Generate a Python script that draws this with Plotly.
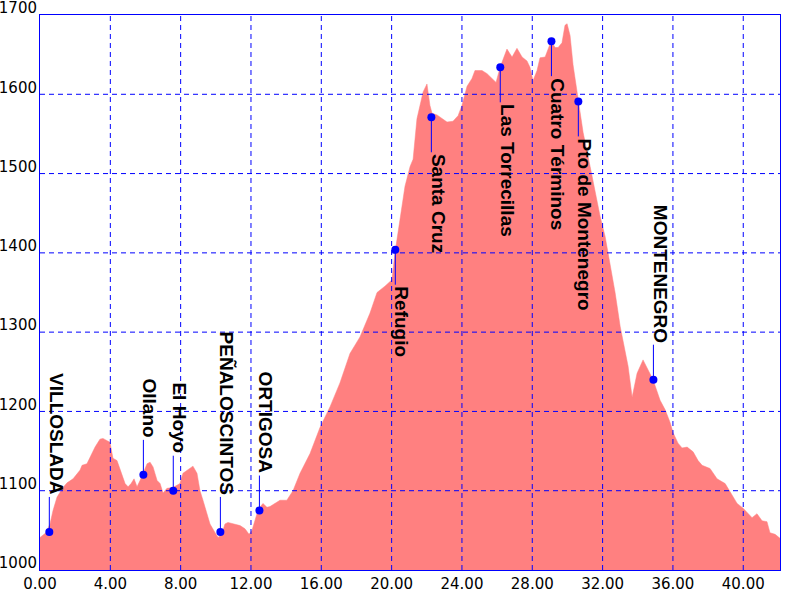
import plotly.graph_objects as go

# elevation profile (km, m)
km = [0.00, 0.34, 0.57, 0.74, 0.97, 1.14, 1.31, 1.54, 1.88, 2.28, 2.39, 2.67, 2.84,
      3.13, 3.41, 3.58, 3.98, 4.15, 4.38, 4.55, 4.84, 5.01, 5.18, 5.35, 5.52, 5.69,
      5.86, 6.09, 6.26, 6.43, 6.66, 6.83, 7.00, 7.22, 7.56, 7.96, 8.13, 8.53, 8.70,
      8.93, 9.10, 9.27, 9.50, 9.67, 9.96, 10.13, 10.35, 10.52, 10.69, 10.98, 11.38,
      11.66, 11.89, 12.06, 12.34, 12.51, 12.68, 12.91, 13.08, 13.65, 14.04, 14.39,
      14.79, 15.36, 15.93, 16.50, 17.06, 17.63, 18.20, 18.77, 19.17, 19.62, 20.02,
      20.19, 20.48, 20.76, 21.05, 21.22, 21.44, 21.62, 21.79, 22.01, 22.18, 22.30,
      22.58, 23.15, 23.49, 23.78, 24.00, 24.29, 24.57, 24.74, 25.14, 25.43, 25.71,
      25.94, 26.17, 26.45, 26.56, 26.85, 27.13, 27.42, 27.70, 27.87, 28.04, 28.27,
      28.44, 28.73, 29.07, 29.30, 29.47, 29.69, 29.86, 29.98, 30.15, 30.32, 30.60,
      30.89, 31.29, 31.68, 31.86, 32.14, 32.42, 32.71, 33.00, 33.28, 33.45, 33.68,
      33.96, 34.30, 34.87, 35.27, 35.56, 35.84, 36.01, 36.29, 36.52, 36.81, 37.15,
      37.43, 37.66, 38.11, 38.51, 38.97, 39.25, 39.65, 39.99, 40.27, 40.50, 40.78,
      41.07, 41.35, 41.52, 41.81, 42.09]
elev = [1041, 1047, 1058, 1075, 1092, 1098, 1104, 1110, 1115, 1126, 1132, 1134, 1142,
        1155, 1165, 1166, 1161, 1141, 1138, 1128, 1109, 1105, 1109, 1115, 1105, 1113,
        1122, 1134, 1136, 1130, 1113, 1109, 1097, 1103, 1104, 1109, 1122, 1128, 1131,
        1122, 1100, 1088, 1071, 1058, 1047, 1041, 1046, 1058, 1060, 1058, 1056,
        1052, 1045, 1050, 1071, 1079, 1084, 1079, 1080, 1088, 1088, 1100,
        1122, 1147, 1180, 1206, 1236, 1273, 1294, 1324, 1350, 1358, 1366,
        1400, 1442, 1484, 1509, 1518, 1569, 1586, 1603, 1613, 1586, 1576,
        1574, 1565, 1566, 1573, 1586, 1610, 1620, 1630, 1630, 1626, 1620,
        1615, 1634, 1650, 1657, 1647, 1658, 1647, 1642, 1634, 1617, 1630,
        1646, 1647, 1667, 1659, 1659, 1665, 1687, 1689, 1674, 1637, 1592,
        1552, 1509, 1467, 1446, 1421, 1387, 1350, 1307, 1273, 1257, 1218,
        1248, 1265, 1240, 1214, 1202, 1186, 1173, 1160, 1154, 1155, 1149,
        1138, 1132, 1128, 1115, 1109, 1098, 1084, 1078, 1071, 1066, 1071,
        1062, 1061, 1047, 1045, 1040]

# waypoints
stop_names = ["VILLOSLADA", "Ollano", "El Hoyo", "PEÑALOSCINTOS", "ORTIGOSA",
              "Refugio", "Santa Cruz", "Las Torrecillas", "Cuatro Términos",
              "Pto de Montenegro", "MONTENEGRO"]
stop_km = [0.53, 5.88, 7.58, 10.26, 12.48, 20.21, 22.26, 26.18, 29.09, 30.62, 34.89]
stop_elev = [1048, 1120, 1100, 1048, 1075, 1404, 1571, 1634, 1667, 1591, 1240]
stop_side = ["up", "up", "up", "up", "up", "down", "down", "down", "down", "down", "up"]

x_ticks = [0, 4, 8, 12, 16, 20, 24, 28, 32, 36, 40]
y_ticks = [1000, 1100, 1200, 1300, 1400, 1500, 1600, 1700]

BLUE = "#0000ff"
LEAD = 35  # px

fig = go.Figure()
fig.add_trace(go.Scatter(
    x=km, y=elev, mode="lines", fill="tozeroy",
    line=dict(color="#ff8080", width=0.5), fillcolor="#ff8080",
    hoverinfo="skip",
))

shapes = []
# dashed grid drawn above the fill
for t in x_ticks[1:]:
    shapes.append(dict(type="line", xref="x", yref="y domain", x0=t, x1=t, y0=0, y1=1,
                       line=dict(color=BLUE, width=1, dash="5px,4px"), layer="above"))
for t in y_ticks[1:-1]:
    shapes.append(dict(type="line", xref="x domain", yref="y", x0=0, x1=1, y0=t, y1=t,
                       line=dict(color=BLUE, width=1, dash="5px,4px"), layer="above"))

annotations = []
for name, x, y, side in zip(stop_names, stop_km, stop_elev, stop_side):
    d = LEAD if side == "up" else -LEAD
    shapes.append(dict(type="line", xref="x", yref="y", x0=x, x1=x,
                       ysizemode="pixel", yanchor=y, y0=0, y1=d,
                       line=dict(color=BLUE, width=1), layer="above"))
    annotations.append(dict(
        x=x, y=y, xref="x", yref="y", text="<b>%s</b>" % name, showarrow=False,
        textangle=90, xanchor="left", yanchor="bottom" if side == "up" else "top",
        yshift=d, xshift=-6,
        font=dict(family="Liberation Sans, Arial", size=19, color="black"),
    ))

fig.add_trace(go.Scatter(
    x=stop_km, y=stop_elev, mode="markers",
    marker=dict(color=BLUE, size=8), cliponaxis=False, hoverinfo="skip",
))

tick_font = dict(family="DejaVu Sans", size=15, color="black")
fig.update_layout(
    width=800, height=600,
    margin=dict(l=40, r=20, t=15, b=30),
    paper_bgcolor="white", plot_bgcolor="white",
    showlegend=False,
    shapes=shapes, annotations=annotations,
    xaxis=dict(range=[0, 42.09], tickvals=x_ticks, tickformat=".2f",
               showgrid=False, zeroline=False, ticks="", automargin=False,
               showline=True, mirror=True, linecolor=BLUE, linewidth=1,
               layer="above traces", tickfont=tick_font),
    yaxis=dict(range=[1000, 1700], tickvals=y_ticks, tickformat="d",
               showgrid=False, zeroline=False, ticks="", automargin=False,
               showline=True, mirror=True, linecolor=BLUE, linewidth=1,
               layer="above traces", tickfont=tick_font, ticklabelshift=-7,
               ticklabelstandoff=-1, ticklabeloverflow="allow"),
)

# page body has an 8px default margin; drop it so the figure sits at 0,0
fig.write_html("out.html", config={"displayModeBar": False},
               post_script="document.body.style.margin='0';")
